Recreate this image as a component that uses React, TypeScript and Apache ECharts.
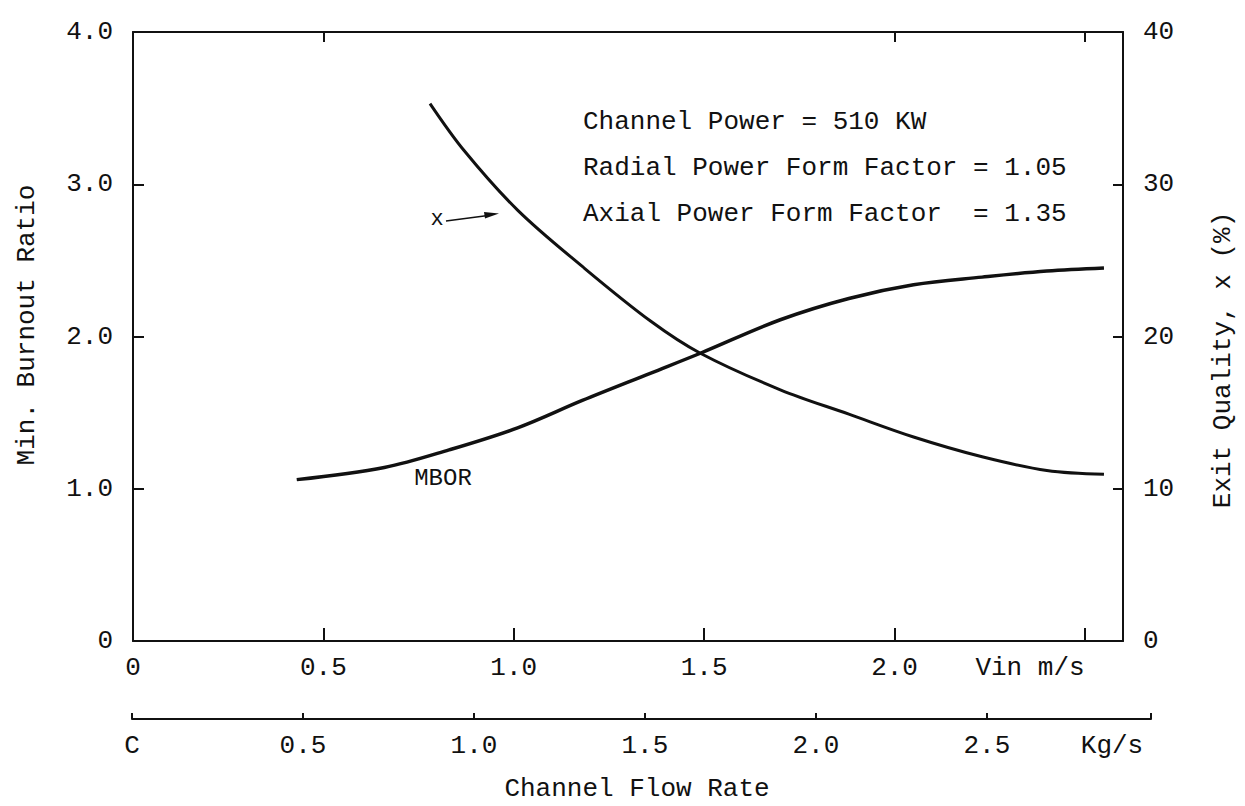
import { useEffect, useRef } from "react";
import * as echarts from "echarts";

// Inlet velocity (m/s) and minimum burnout ratio along the MBOR curve
const vinMbor = [0.43, 0.66, 0.83, 1.01, 1.18, 1.36, 1.49, 1.7, 1.88, 2.05, 2.23, 2.4, 2.55];
const mbor = [1.06, 1.14, 1.255, 1.4, 1.58, 1.76, 1.89, 2.11, 2.25, 2.34, 2.39, 2.43, 2.45];

// Inlet velocity (m/s) and exit quality (%) along the x curve
const vinQuality = [0.78, 0.87, 1.01, 1.18, 1.36, 1.49, 1.7, 1.88, 2.05, 2.23, 2.4, 2.55];
const exitQuality = [35.3, 32.2, 28.3, 24.6, 21.0, 18.9, 16.5, 14.9, 13.4, 12.1, 11.2, 10.95];

// Axis marks
const vinLabels = [0, 0.5, 1.0, 1.5, 2.0];
const vinTicks = [0.5, 1.0, 1.5, 2.0, 2.5];
const topTicks = [0.5, 2.0, 2.5];
const flowLabels = [0, 0.5, 1.0, 1.5, 2.0, 2.5];
const flowTicks = [0, 0.5, 1.0, 1.5, 2.0, 2.5, 2.98];

const noteLines = [
  "Channel Power = 510 KW",
  "Radial Power Form Factor = 1.05",
  "Axial Power Form Factor  = 1.35",
];

const FONT = "'Liberation Mono', 'DejaVu Sans Mono', monospace";
const INK = "#111";

const axisLine = { show: true, onZero: false, lineStyle: { color: INK, width: 2 } };
const labelStyle = { color: INK, fontFamily: FONT, fontSize: 26 };

function textEl(text: string, x: number, y: number, size = 26, align = "center", rotation = 0) {
  return {
    type: "text",
    x,
    y,
    rotation,
    style: {
      text,
      fill: INK,
      fontFamily: FONT,
      fontSize: size,
      align,
      verticalAlign: "middle",
    },
  };
}

export default function App() {
  const ref = useRef<HTMLDivElement>(null);

  useEffect(() => {
    if (!ref.current) return;
    const chart = echarts.init(ref.current, null, { renderer: "svg" });

    const option = {
      animation: false,
      backgroundColor: "#fff",
      grid: [
        { left: 133, right: 122, top: 32, bottom: 165 },
        { left: 132, right: 94, top: 690, bottom: 87 },
      ],
      xAxis: [
        {
          type: "value",
          gridIndex: 0,
          position: "bottom",
          min: 0,
          max: 2.6,
          axisLine,
          axisTick: {
            show: true,
            inside: true,
            length: 13,
            lineStyle: { color: INK, width: 2 },
            customValues: vinTicks,
          },
          axisLabel: {
            ...labelStyle,
            margin: 14,
            customValues: vinLabels,
            formatter: (v: number) => (v === 0 ? "0" : v.toFixed(1)),
          },
          splitLine: { show: false },
        },
        {
          type: "value",
          gridIndex: 0,
          position: "top",
          min: 0,
          max: 2.6,
          axisLine,
          axisTick: {
            show: true,
            inside: true,
            length: 10,
            lineStyle: { color: INK, width: 2 },
            customValues: topTicks,
          },
          axisLabel: { show: false },
          splitLine: { show: false },
        },
        {
          type: "value",
          gridIndex: 1,
          position: "bottom",
          min: 0,
          max: 2.98,
          axisLine,
          axisTick: {
            show: true,
            inside: true,
            length: 6,
            lineStyle: { color: INK, width: 2 },
            customValues: flowTicks,
          },
          axisLabel: {
            ...labelStyle,
            margin: 14,
            customValues: flowLabels,
            formatter: (v: number) => (v === 0 ? "C" : v.toFixed(1)),
          },
          splitLine: { show: false },
        },
      ],
      yAxis: [
        {
          type: "value",
          gridIndex: 0,
          position: "left",
          min: 0,
          max: 4,
          interval: 1,
          axisLine,
          axisTick: { show: true, inside: true, length: 11, lineStyle: { color: INK, width: 2 } },
          axisLabel: {
            ...labelStyle,
            margin: 20,
            formatter: (v: number) => (v === 0 ? "0" : v.toFixed(1)),
          },
          splitLine: { show: false },
        },
        {
          type: "value",
          gridIndex: 0,
          position: "right",
          min: 0,
          max: 40,
          interval: 10,
          axisLine,
          axisTick: { show: true, inside: true, length: 10, lineStyle: { color: INK, width: 2 } },
          axisLabel: { ...labelStyle, margin: 20 },
          splitLine: { show: false },
        },
        { type: "value", gridIndex: 1, show: false, min: 0, max: 1 },
      ],
      series: [
        {
          name: "MBOR",
          type: "line",
          xAxisIndex: 0,
          yAxisIndex: 0,
          data: vinMbor.map((v, i) => [v, mbor[i]]),
          smooth: 0.35,
          symbol: "none",
          lineStyle: { color: INK, width: 3.5 },
        },
        {
          name: "x",
          type: "line",
          xAxisIndex: 0,
          yAxisIndex: 1,
          data: vinQuality.map((v, i) => [v, exitQuality[i]]),
          smooth: 0.35,
          symbol: "none",
          lineStyle: { color: INK, width: 3 },
        },
      ],
      graphic: [
        ...noteLines.map((t, i) => textEl(t, 583, 122 + i * 46, 26, "left")),
        textEl("MBOR", 443, 478, 24),
        textEl("x", 437, 219, 22),
        {
          type: "line",
          shape: { x1: 446, y1: 221, x2: 488, y2: 215.5 },
          style: { stroke: INK, lineWidth: 1.5 },
        },
        {
          type: "polygon",
          shape: { points: [[484, 212], [499, 213.5], [485, 218.5]] },
          style: { fill: INK },
        },
        textEl("Vin m/s", 1030, 668),
        textEl("Kg/s", 1112, 746),
        textEl("Channel Flow Rate", 637, 789),
        textEl("Min. Burnout Ratio", 27, 325, 26, "center", Math.PI / 2),
        textEl("Exit Quality, x (%)", 1223, 360, 26, "center", Math.PI / 2),
      ],
    };

    chart.setOption(option as any);
    return () => chart.dispose();
  }, []);

  return (
    <div
      ref={ref}
      style={{ position: "fixed", left: 0, top: 0, width: 1245, height: 806, background: "#fff" }}
    />
  );
}
